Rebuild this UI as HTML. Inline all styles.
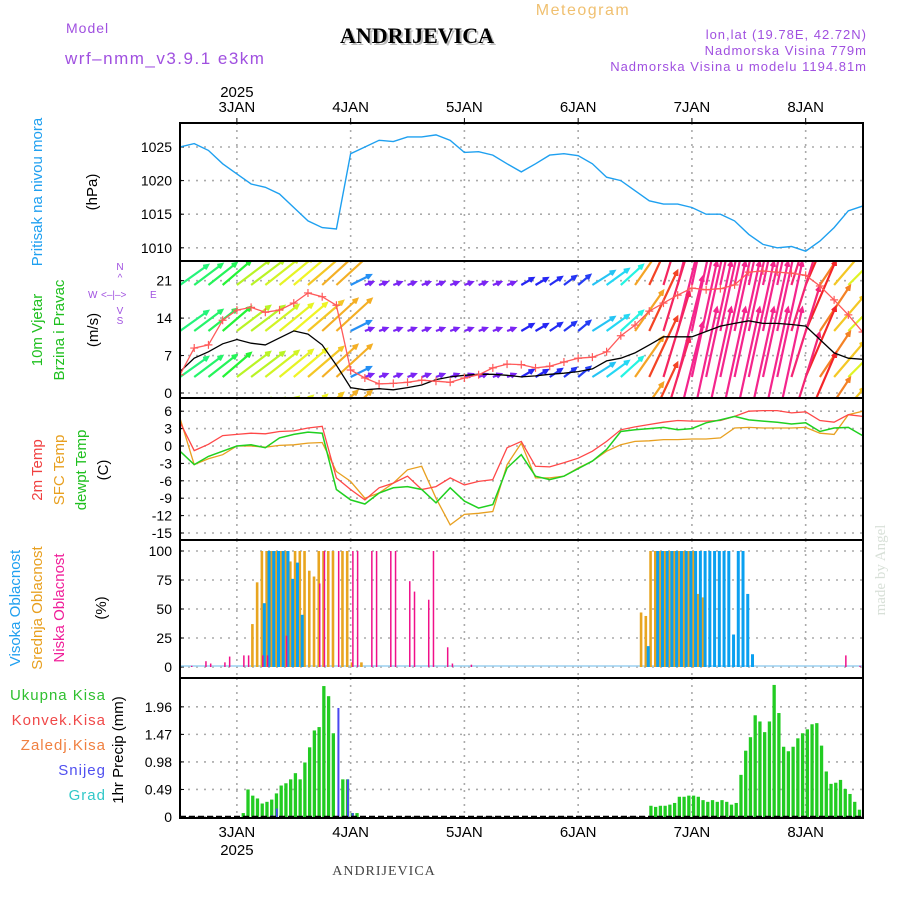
<!DOCTYPE html>
<html><head><meta charset="utf-8"><style>
body{margin:0;background:#fff;}
svg{display:block;font-family:"Liberation Sans",sans-serif;}
</style></head><body>
<svg id="chart" width="900" height="900" viewBox="0 0 900 900" xmlns="http://www.w3.org/2000/svg">
<rect width="900" height="900" fill="#fff"/>
<g>
<text x="66" y="33" font-size="14" fill="#a050e0" letter-spacing="1">Model</text>
<text x="65" y="64" font-size="17" fill="#a050e0" letter-spacing="1.5">wrf–nmm_v3.9.1 e3km</text>
<text x="417" y="43" font-size="22" font-weight="bold" font-family="Liberation Serif,serif" fill="#bbb" text-anchor="middle" transform="translate(2,2)">ANDRIJEVICA</text>
<text x="417" y="43" font-size="22" font-weight="bold" font-family="Liberation Serif,serif" fill="#000" text-anchor="middle">ANDRIJEVICA</text>
<text x="583" y="15" font-size="16" fill="#f0c070" text-anchor="middle" letter-spacing="1.5">Meteogram</text>
<text x="867" y="39" font-size="13" fill="#a050e0" text-anchor="end" letter-spacing="1">lon,lat (19.78E, 42.72N)</text>
<text x="867" y="55" font-size="13" fill="#a050e0" text-anchor="end" letter-spacing="1">Nadmorska Visina 779m</text>
<text x="867" y="71" font-size="13" fill="#a050e0" text-anchor="end" letter-spacing="1">Nadmorska Visina u modelu 1194.81m</text>
<text x="384" y="875" font-size="14" font-family="Liberation Serif,serif" fill="#444" text-anchor="middle" letter-spacing="1">ANDRIJEVICA</text>
<text transform="translate(885,570) rotate(-90)" font-size="15" font-family="Liberation Serif,serif" fill="#d8e0d8" text-anchor="middle">made by Angel</text>
</g>
<g font-size="15">
<text transform="translate(42,192) rotate(-90)" fill="#20a0f0" text-anchor="middle">Pritisak na nivou mora</text>
<text transform="translate(97,192) rotate(-90)" fill="#000" text-anchor="middle">(hPa)</text>
<text transform="translate(42,330) rotate(-90)" fill="#20c020" text-anchor="middle">10m Vjetar</text>
<text transform="translate(64,330) rotate(-90)" fill="#20c020" text-anchor="middle">Brzina i Pravac</text>
<text transform="translate(98,330) rotate(-90)" fill="#000" text-anchor="middle">(m/s)</text>
<g fill="#a050e0" font-size="10">
<text x="120" y="270" text-anchor="middle">N</text><text x="120" y="281" text-anchor="middle">^</text>
<text x="88" y="298">W</text><text x="101" y="298">&lt;–|–&gt;</text><text x="150" y="298">E</text>
<text x="120" y="314" text-anchor="middle">V</text><text x="120" y="324" text-anchor="middle">S</text>
</g>
<text transform="translate(42,470) rotate(-90)" fill="#f04040" text-anchor="middle">2m Temp</text>
<text transform="translate(64,470) rotate(-90)" fill="#e8a020" text-anchor="middle">SFC Temp</text>
<text transform="translate(86,470) rotate(-90)" fill="#20c020" text-anchor="middle">dewpt Temp</text>
<text transform="translate(108,470) rotate(-90)" fill="#000" text-anchor="middle">(C)</text>
<text transform="translate(20,608) rotate(-90)" fill="#20a0f0" text-anchor="middle">Visoka Oblacnost</text>
<text transform="translate(42,608) rotate(-90)" fill="#e8a020" text-anchor="middle">Srednja Oblacnost</text>
<text transform="translate(64,608) rotate(-90)" fill="#f0209a" text-anchor="middle">Niska Oblacnost</text>
<text transform="translate(106,608) rotate(-90)" fill="#000" text-anchor="middle">(%)</text>
<g font-size="15" text-anchor="end" letter-spacing="1">
<text x="106" y="700" fill="#30c030">Ukupna Kisa</text>
<text x="106" y="725" fill="#f04848">Konvek.Kisa</text>
<text x="106" y="750" fill="#f08040">Zaledj.Kisa</text>
<text x="106" y="775" fill="#5050f0">Snijeg</text>
<text x="106" y="800" fill="#30c8c8">Grad</text>
</g>
<text transform="translate(123,750) rotate(-90)" fill="#000" text-anchor="middle">1hr Precip (mm)</text>
</g>
<g id="plot"></g>
</svg>
<script>
// ---------- data ----------
const dayLabels = ["3JAN","4JAN","5JAN","6JAN","7JAN","8JAN"];
const dayHours = [12,36,60,84,108,132];
const hours3 = [0,3,6,9,12,15,18,21,24,27,30,33,36,39,42,45,48,51,54,57,60,63,66,69,72,75,78,81,84,87,90,93,96,99,102,105,108,111,114,117,120,123,126,129,132,135,138,141,144];
const pressure = [1025,1025.5,1024.5,1022.5,1021,1019.5,1019,1018,1016,1014,1013,1012.8,1024,1025,1026,1025.8,1026.5,1026.5,1026.8,1026,1024.2,1024.3,1023.8,1022.5,1021.3,1022.5,1023.8,1024,1023.7,1022.5,1020.5,1020,1018.5,1017,1016.5,1016.5,1016,1015,1015,1014,1012,1010.5,1010,1010.2,1009.5,1011,1013,1015.5,1016.2];
const pressureTicks = [1010,1015,1020,1025];
const windSpeed = [4,6.5,7.7,9.2,10,9.3,9,10.3,11.6,11,9,5.2,1,0.6,0.8,0.6,1,1.5,2.5,3,3.3,3.5,3.5,3.3,3,3.2,3.5,3.7,4,4.5,6,6.5,7.5,9,10.5,10.5,10.5,11.5,12.5,13,13.5,13,13,12.8,12.5,10,7.5,6.5,6.3];
const windGust = [3.4,8.4,9,13.6,15.5,16,15.1,15.5,16.8,18.7,18,16.4,4.3,2.8,1.7,1.8,2,2.4,2.2,2,2.8,3.4,4.7,5.4,5.3,4.7,5,5.8,6.5,6.7,7.7,10.7,12.7,15.3,16.8,18.3,19.6,19.3,19.5,20.2,22.6,22.8,22.6,22.4,22,20,17.4,14.6,11.4];
const windU = [11.2,11.2,11.2,11.2,13.2,13.2,13.2,13.2,13.2,14,14,14,8,3.2,3.2,3.2,3.2,3.2,3.2,3.2,3.2,3.2,3.2,3.2,4.8,4.8,4.8,4.8,4.8,8.8,8.8,8.8,11.2,11.2,10.4,10,10,10,10,10,10,10,10,11.2,12,12,12,12,12];
const windV = [8,8.4,8.8,9.6,10,10,10.4,10.8,11.2,12,12.8,12.8,4,1.2,1.2,1.2,1.2,1.2,1.2,1.2,1.2,1.2,1.2,1.2,2.8,2.8,3.2,3.6,4,5.6,6.4,8,16,24,34,40,46,46,46,46,46,46,46,36,28,18,14,12,12];
const windTicks = [0,7,14,21];
const temp2m = [4.1,-0.8,0.3,1.8,2,2.2,2.1,2.5,2.6,3.1,3.4,-5.5,-7.5,-9.3,-7.2,-6.4,-5.2,-7.5,-7,-5.5,-6.7,-6.1,-5.8,-0.3,0.8,-3.5,-3.6,-2.9,-2.1,-0.9,0.8,2.8,3.3,3.7,4.1,4.4,4.3,4.3,4.4,5.1,6,6.1,6.1,5.7,5.9,4.4,4.1,5.4,5.1];
const tempSfc = [4.8,-3.2,-2.2,-1.5,0,0,-0.2,0.1,0.2,0.5,0.6,-4.4,-6.1,-9,-8.1,-6.4,-4.1,-3.5,-9,-13.6,-11.8,-11.6,-11.3,-3.2,0.5,-5.5,-5.5,-5.2,-3.8,-2.6,-0.9,0.2,0.8,0.9,1.1,1.1,1.2,1.2,1.4,3.1,3.2,3.1,3.1,3.1,3.2,2.2,2,5.4,6];
const dewpt = [-0.9,-3.2,-1.8,-0.9,0,0.2,-0.3,1.4,2,2.4,2.2,-7.5,-9.3,-10,-8.1,-7.2,-7,-7.5,-9.8,-7.2,-9.5,-10.7,-10.1,-3.8,-1.5,-5.2,-5.8,-5.2,-3.9,-2.6,-0.6,2.5,2.8,3,3.2,2.8,3,4,4.5,5.1,4.5,4.3,4.1,3.8,4,2.5,3.1,3.2,1.8];
const tempTicks = [-15,-12,-9,-6,-3,0,3,6];
const highCloudHours = [17,18,19,20,21,22,23,24,25,98,100,101,102,103,104,105,106,107,108,109,110,111,112,113,114,115,116,117,118,119,120];
const highCloud = [55,100,100,100,100,100,76,90,45,18,100,100,100,100,100,100,100,100,100,100,100,100,100,100,100,100,28,100,100,63,11];
const midCloudHours = [15,16,17,18,19,20,21,22,23,24,25,26,27,28,29,30,31,32,34,35,36,38,97,98,99,100,101,102,103,104,105,106,107,108,109,110];
const midCloud = [37,73,100,100,100,100,100,100,91,100,100,100,83,78,100,100,100,100,100,100,4,4,47,44,100,100,100,100,100,100,100,100,100,100,63,60];
const lowCloudHours = [2,5,6,9,10,13,14,17,18,22,29,30,33,36,37,40,41,44,45,48,49,52,53,56,57,61,140,143,144];
const lowCloud = [1,5,3,4,9,10,10,10,10,27,72,100,100,100,100,100,100,100,100,74,65,58,100,17,3,2,10,1,9];
const cloudTicks = [0,25,50,75,100];
const precipHours = [13,14,15,16,17,18,19,20,21,22,23,24,25,26,27,28,29,30,31,32,33,34,35,36,37,99,100,101,102,103,104,105,106,107,108,109,110,111,112,113,114,115,116,117,118,119,120,121,122,123,124,125,126,127,128,129,130,131,132,133,134,135,136,137,138,139,140,141,142,143,144];
const precipTotal = [0.07,0.49,0.38,0.33,0.24,0.27,0.31,0.42,0.56,0.6,0.67,0.78,0.67,0.97,1.24,1.54,1.6,2.33,2.15,1.49,0,0.67,0.67,0.07,0.07,0.2,0.18,0.2,0.2,0.22,0.25,0.36,0.36,0.38,0.38,0.36,0.3,0.27,0.3,0.27,0.3,0.27,0.22,0.25,0.75,1.18,1.42,1.81,1.7,1.51,1.7,2.35,1.85,1.25,1.17,1.25,1.4,1.49,1.56,1.65,1.67,1.27,0.81,0.59,0.61,0.66,0.5,0.41,0.27,0.13,0.13];
const snowHours = [19,20,33,35,36];
const snow = [0.03,0.15,1.94,0.67,0.07];
const precipTicks = [0,0.49,0.98,1.47,1.96];
const precipTickLabels = ["0","0.49","0.98","1.47","1.96"];

// ---------- helpers ----------
const NS="http://www.w3.org/2000/svg";
const plot=document.getElementById('plot');
const X0=180,X1=863,PX_H=4.74;
function x(t){return X0+t*PX_H;}
function mk(tag,attrs,parent){const e=document.createElementNS(NS,tag);for(const k in attrs)e.setAttribute(k,attrs[k]);(parent||plot).appendChild(e);return e;}
const panels=[
 {top:123,bot:261,y:v=>147+(1025-v)*6.72},
 {top:261,bot:398,y:v=>393-v*5.35},
 {top:398,bot:540,y:v=>446-v*5.8},
 {top:540,bot:678,y:v=>667-v*1.16},
 {top:678,bot:818,y:v=>817-v*56.2}
];
const yP=panels[0].y,yW=panels[1].y,yT=panels[2].y,yC=panels[3].y,yR=panels[4].y;

const defs=mk('defs',{});
panels.forEach((p,i)=>{const c=mk('clipPath',{id:'clip'+i},defs);mk('rect',{x:X0,y:p.top,width:X1-X0,height:p.bot-p.top},c);});

function grid(pi,ticks,labels){
 const p=panels[pi];
 const g=mk('g',{});
 
 
 ticks.forEach((v,i)=>{
  const yy=p.y(v);
  const l=mk('line',{x1:X0,x2:X1,y1:yy,y2:yy,stroke:'#aaa','stroke-width':1.6,'stroke-dasharray':'2,6'},g);
  
  
  const tx=mk('text',{x:X0-8,y:yy+5,'font-size':14,'text-anchor':'end',fill:'#000'},g);
  tx.textContent=labels?labels[i]:String(v);
  
  
  mk('line',{x1:X0,x2:X0+4,y1:yy,y2:yy,stroke:'#000'},g);
 });
 dayHours.forEach(h=>{
  const l=mk('line',{x1:x(h),x2:x(h),y1:p.top,y2:p.bot,stroke:'#aaa','stroke-width':1.6,'stroke-dasharray':'2,5'},g);
  
  
 });
}
grid(0,pressureTicks);grid(1,windTicks);grid(2,tempTicks);grid(3,cloudTicks);grid(4,precipTicks,precipTickLabels);

function line(arr,yf,color,name,pi,w){
 const d=arr.map((v,i)=>(i?'L':'M')+x(hours3[i]).toFixed(1)+','+yf(v).toFixed(1)).join('');
 const e=mk('path',{d:d,fill:'none',stroke:color,'stroke-width':w||1.3,'clip-path':'url(#clip'+pi+')'});
 
 
 return e;
}
line(pressure,yP,'#1ea0f0','pressure-line',0,1.4);

const spdStops=[3,6,10,13,15,17,19,24,30,40];
const hueStops=[270,235,200,160,120,65,40,15,0,-30];
function hueFor(s){
 if(s<=spdStops[0])return hueStops[0];
 for(let i=1;i<spdStops.length;i++){if(s<=spdStops[i]){const f=(s-spdStops[i-1])/(spdStops[i]-spdStops[i-1]);return hueStops[i-1]+f*(hueStops[i]-hueStops[i-1]);}}
 return hueStops[hueStops.length-1];
}
const arrowG=mk('g',{'clip-path':'url(#clip1)'});


const rowBases=[285,331,377,423];
const AS=2.5;
rowBases.forEach(by=>{
 windU.forEach((u,i)=>{
  const v=windV[i];const s=Math.hypot(u,v);
  const h=((hueFor(s)%360)+360)%360;
  const col='hsl('+h.toFixed(0)+',90%,55%)';
  const x0=x(hours3[i]),x1=x0+u*AS,y1=by-v*AS;
  const ang=Math.atan2(y1-by,x1-x0);
  const hl=5;
  const a1=ang+Math.PI-0.45,a2=ang+Math.PI+0.45;
  const d='M'+x0+','+by+'L'+x1+','+y1+'M'+(x1+hl*Math.cos(a1))+','+(y1+hl*Math.sin(a1))+'L'+x1+','+y1+'L'+(x1+hl*Math.cos(a2))+','+(y1+hl*Math.sin(a2));
  const e=mk('path',{d:d,stroke:col,'stroke-width':2.2,fill:'none'},arrowG);
  
  
 });
});
line(windSpeed,yW,'#000','wind-speed-line',1,1.3);
line(windGust,yW,'#ff5a5a','wind-gust-line',1,1.3);
const gm=mk('g',{'clip-path':'url(#clip1)'});


windGust.forEach((v,i)=>{const xx=x(hours3[i]),yy=yW(v);
 const e=mk('path',{d:'M'+(xx-4)+','+yy+'H'+(xx+4)+'M'+xx+','+(yy-4)+'V'+(yy+4),stroke:'#ff5a5a','stroke-width':1.2},gm);
 
 
});

line(tempSfc,yT,'#e8a020','sfc-temp-line',2,1.3);
line(temp2m,yT,'#ff4848','temp-2m-line',2,1.3);
line(dewpt,yT,'#20d020','dewpt-line',2,1.5);

mk('line',{x1:X0,x2:X1,y1:666,y2:666,stroke:'#9bd0f0','stroke-width':1.5});
function bars(hrs,vals,yf,col,off,w,name,pi){
 const g=mk('g',{'clip-path':'url(#clip'+pi+')'});
 
 
 const y0=yf(0);
 hrs.forEach((h,i)=>{const yy=yf(vals[i]);
  const r=mk('rect',{x:x(h)+off,y:yy,width:w,height:Math.max(0,y0-yy),fill:col},g);
  
  
 });
}
bars(midCloudHours,midCloud,yC,'#e8a520',0,2.6,'mid-cloud',3);
bars(highCloudHours,highCloud,yC,'#0aa0f0',2.2,3,'high-cloud',3);
bars(lowCloudHours,lowCloud,yC,'#f0108a',1.5,1.5,'low-cloud',3);

bars(precipHours,precipTotal,yR,'#22cc22',0,3.3,'total-precip',4);
bars(snowHours,snow,yR,'#4848f0',1,2,'snow',4);
const bl=mk('line',{x1:X0,x2:X1,y1:817,y2:817,stroke:'#000','stroke-width':2.5,'stroke-dasharray':'6,3'});



panels.forEach((p,i)=>{const r=mk('rect',{x:X0,y:p.top,width:X1-X0,height:p.bot-p.top,fill:'none',stroke:'#000','stroke-width':2});
 
 });

dayHours.forEach((h,i)=>{
 const t=mk('text',{x:x(h),y:112,'font-size':15,'text-anchor':'middle',fill:'#000'});
 t.textContent=dayLabels[i];
 
 
 mk('line',{x1:x(h),x2:x(h),y1:123,y2:118,stroke:'#000'});
 const b=mk('text',{x:x(h),y:837,'font-size':15,'text-anchor':'middle',fill:'#000'});
 b.textContent=dayLabels[i];
 
 
});
const y1t=mk('text',{x:x(12),y:97,'font-size':15,'text-anchor':'middle',fill:'#000'});y1t.textContent='2025';


const y2t=mk('text',{x:x(12),y:855,'font-size':15,'text-anchor':'middle',fill:'#000'});y2t.textContent='2025';


</script>
</body></html>
